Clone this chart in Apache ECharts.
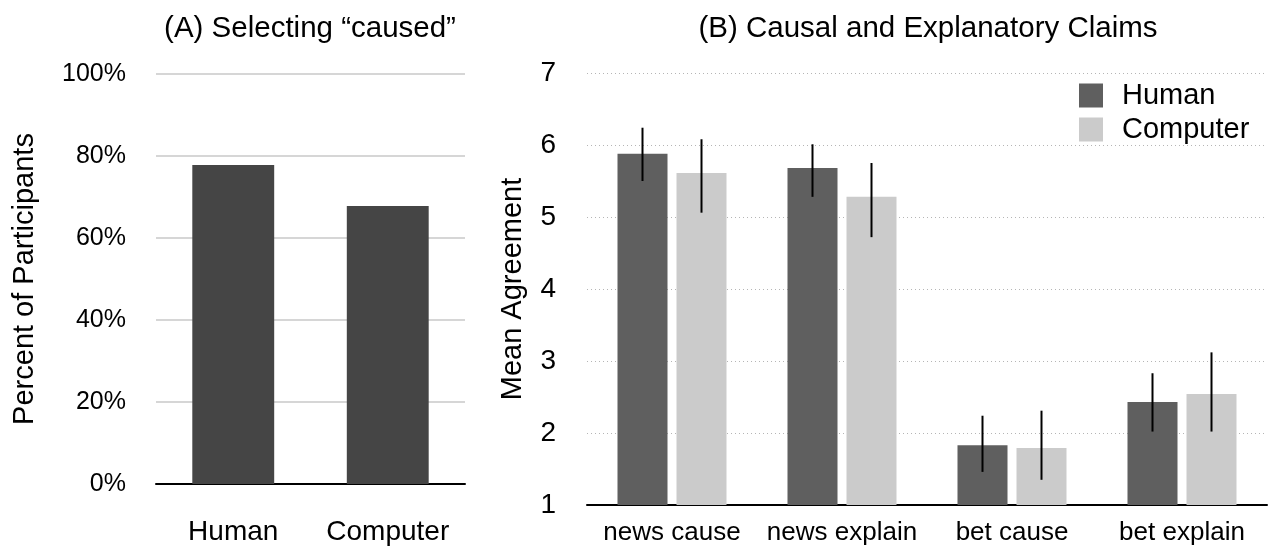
<!DOCTYPE html>
<html>
<head>
<meta charset="utf-8">
<script src="https://cdn.jsdelivr.net/npm/echarts@6/dist/echarts.min.js"></script>
<style>html,body{margin:0;padding:0;background:#fff}#c{width:1268px;height:548px}</style>
</head>
<body>
<div id="c"></div>
<script>
// ---- data ----
const leftCategories = ['Human', 'Computer'];
const leftValues = [77.8, 67.8];
const leftTicks = [0, 20, 40, 60, 80, 100];

const rightCategories = ['news cause', 'news explain', 'bet cause', 'bet explain'];
const humanMeans = [5.88, 5.68, 1.83, 2.43];
const humanLow = [5.50, 5.28, 1.46, 2.02];
const humanHigh = [6.24, 6.01, 2.24, 2.83];
const computerMeans = [5.61, 5.28, 1.79, 2.54];
const computerLow = [5.06, 4.72, 1.35, 2.02];
const computerHigh = [6.08, 5.75, 2.31, 3.12];
const seriesNames = ['Human', 'Computer'];

// ---- style ----
const FONT = '"Liberation Sans", Arial, Helvetica, sans-serif';
const BAR_W = 50;
const BAR_GAP = 0.18;
const HUMAN_COLOR = '#5f5f5f';
const COMPUTER_COLOR = '#cbcbcb';

function errorSeries(name, idx, low, high) {
  const sign = idx === 0 ? -1 : 1;
  const off = sign * BAR_W * (1 + BAR_GAP) / 2;
  return {
    type: 'custom',
    name: name + ' err',
    xAxisIndex: 1, yAxisIndex: 1,
    silent: true,
    z: 5,
    data: low.map((l, i) => [i, l, high[i]]),
    renderItem: function (params, api) {
      const p1 = api.coord([api.value(0), api.value(1)]);
      const p2 = api.coord([api.value(0), api.value(2)]);
      return {
        type: 'line',
        shape: { x1: p1[0] + off, y1: p1[1], x2: p2[0] + off, y2: p2[1] },
        style: { stroke: '#000', lineWidth: 2 }
      };
    }
  };
}

const chart = echarts.init(document.getElementById('c'));
chart.setOption({
  animation: false,
  textStyle: { fontFamily: FONT, color: '#000' },
  title: [
    { text: '(A) Selecting \u201ccaused\u201d', left: 305, top: 9, textAlign: 'center',
      textStyle: { fontFamily: FONT, fontSize: 29.5, fontWeight: 'normal', color: '#000' } },
    { text: '(B) Causal and Explanatory Claims', left: 923, top: 9, textAlign: 'center',
      textStyle: { fontFamily: FONT, fontSize: 29.5, fontWeight: 'normal', color: '#000' } }
  ],
  legend: {
    data: seriesNames,
    orient: 'vertical',
    left: 1079, top: 81, padding: 0,
    itemWidth: 24, itemHeight: 24, itemGap: 5,
    icon: 'rect',
    textStyle: { fontFamily: FONT, fontSize: 29, color: '#000', padding: [0, 0, 0, 14] }
  },
  grid: [
    { left: 156, right: 803, top: 74, bottom: 64 },
    { left: 587, right: 1, top: 73, bottom: 43 }
  ],
  xAxis: [
    { type: 'category', gridIndex: 0, data: leftCategories,
      axisLine: { lineStyle: { color: '#000', width: 2 } },
      axisTick: { show: false },
      axisLabel: { fontFamily: FONT, fontSize: 28, color: '#000', margin: 34, interval: 0 } },
    { type: 'category', gridIndex: 1, data: rightCategories,
      axisLine: { lineStyle: { color: '#000', width: 2 } },
      axisTick: { show: false },
      axisLabel: { fontFamily: FONT, fontSize: 26, color: '#000', margin: 15, interval: 0 } }
  ],
  yAxis: [
    { type: 'value', gridIndex: 0, min: leftTicks[0], max: leftTicks[leftTicks.length - 1], interval: 20,
      name: 'Percent of Participants', nameLocation: 'middle', nameGap: 117,
      nameTextStyle: { fontFamily: FONT, fontSize: 29, color: '#000' },
      axisLine: { show: false }, axisTick: { show: false },
      axisLabel: { fontFamily: FONT, fontSize: 25, color: '#000', margin: 30, formatter: '{value}%',
        padding: [5, 0, 0, 0] },
      splitLine: { lineStyle: { color: '#c8c8c8', width: 1.5 } } },
    { type: 'value', gridIndex: 1, min: 1, max: 7, interval: 1,
      name: 'Mean Agreement', nameLocation: 'middle', nameGap: 60,
      nameTextStyle: { fontFamily: FONT, fontSize: 29, color: '#000' },
      axisLine: { show: false }, axisTick: { show: false },
      axisLabel: { fontFamily: FONT, fontSize: 28, color: '#000', margin: 31 },
      splitLine: { lineStyle: { color: '#b5b5b5', width: 1, type: [1, 3] } } }
  ],
  series: [
    { type: 'bar', xAxisIndex: 0, yAxisIndex: 0, data: leftValues, barWidth: '53%',
      itemStyle: { color: '#454545' }, silent: true },
    { type: 'bar', name: seriesNames[0], xAxisIndex: 1, yAxisIndex: 1, data: humanMeans,
      barWidth: BAR_W, barGap: (BAR_GAP * 100) + '%', itemStyle: { color: HUMAN_COLOR } },
    { type: 'bar', name: seriesNames[1], xAxisIndex: 1, yAxisIndex: 1, data: computerMeans,
      barWidth: BAR_W, barGap: (BAR_GAP * 100) + '%', itemStyle: { color: COMPUTER_COLOR } },
    errorSeries(seriesNames[0], 0, humanLow, humanHigh),
    errorSeries(seriesNames[1], 1, computerLow, computerHigh)
  ]
});
</script>
</body>
</html>
